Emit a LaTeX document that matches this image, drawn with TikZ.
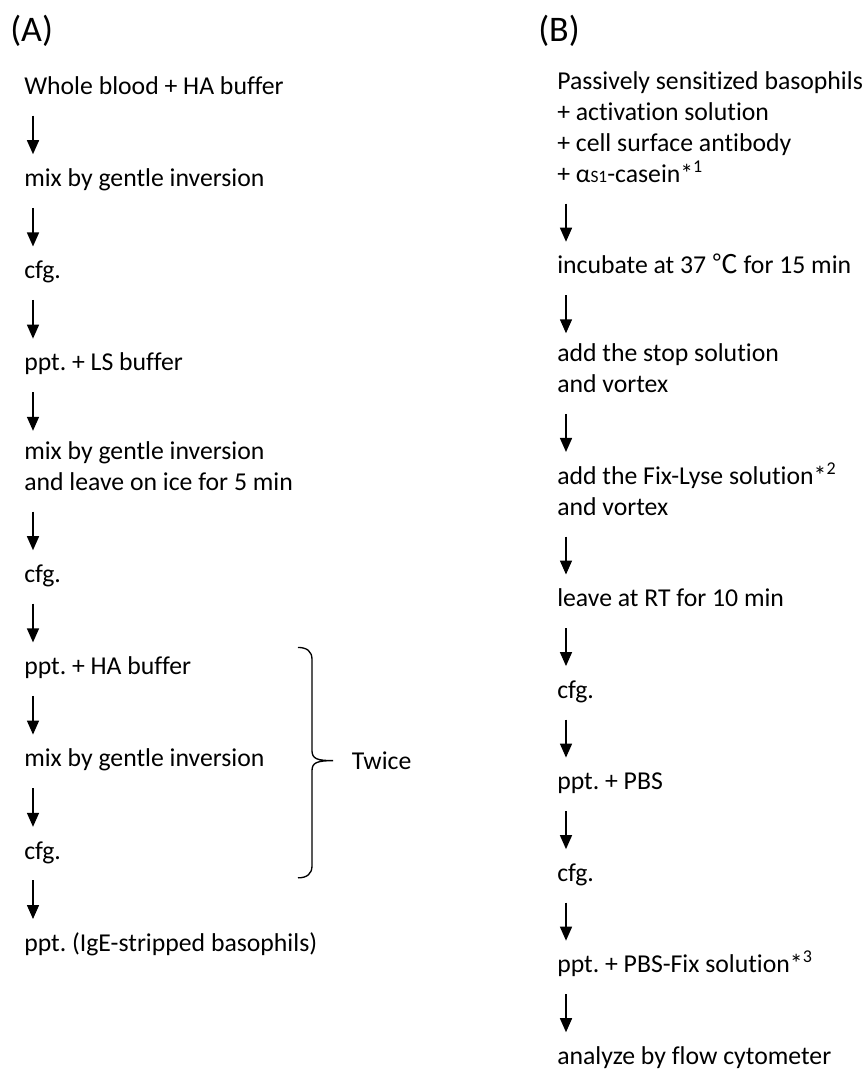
\documentclass[tikz,border=0pt]{standalone}
\usepackage{fontspec}
\setmainfont{Carlito}[Ligatures=NoCommon]
\newfontfamily\cjk{Noto Sans CJK JP}
\usetikzlibrary{arrows.meta, positioning, calc}
\frenchspacing

\newcommand{\stagefont}{\fontsize{19.3pt}{23.25pt}\selectfont}

\begin{document}
\begin{tikzpicture}[x=0.75pt, y=-0.75pt,
    stage/.style={anchor=north west, inner sep=0pt, align=left, font=\stagefont,
        execute at begin node=\strut, execute at end node=\strut},
    panel/.style={anchor=west, inner sep=0pt, font=\fontsize{27pt}{32pt}\selectfont},
    flowarr/.style={-{Triangle[length=10.5pt,width=9pt]}, line width=1.1pt,
        shorten <=8.8pt, shorten >=7.7pt},
    bracket/.style={line width=1pt},
]
\useasboundingbox (0,0) rectangle (865,1075);

% panel labels
\node[panel] (labA) at (10,31) {(A)};
\node[panel] (labB) at (538,31) {(B)};

% (A) IgE stripping
\node[stage] (a1) at (24,72.3) {Whole blood + HA buffer};
\node[below=45.5pt of a1.south west, stage] (a2) {mix by gentle inversion};
\node[below=45.5pt of a2.south west, stage] (a3) {cfg.};
\node[below=45.5pt of a3.south west, stage] (a4) {ppt. + LS buffer};
\node[below=45.5pt of a4.south west, stage] (a5) {mix by gentle inversion\\and leave on ice for 5 min};
\node[below=45.5pt of a5.south west, stage] (a6) {cfg.};
\node[below=45.5pt of a6.south west, stage] (a7) {ppt. + HA buffer};
\node[below=45.5pt of a7.south west, stage] (a8) {mix by gentle inversion};
\node[below=45.5pt of a8.south west, stage] (a9) {cfg.};
\node[below=45.5pt of a9.south west, stage] (a10) {ppt. (IgE-stripped basophils)};

\draw[flowarr] ([xshift=6.75pt]a1.south west) -- ([xshift=6.75pt]a2.north west);
\draw[flowarr] ([xshift=6.75pt]a2.south west) -- ([xshift=6.75pt]a3.north west);
\draw[flowarr] ([xshift=6.75pt]a3.south west) -- ([xshift=6.75pt]a4.north west);
\draw[flowarr] ([xshift=6.75pt]a4.south west) -- ([xshift=6.75pt]a5.north west);
\draw[flowarr] ([xshift=6.75pt]a5.south west) -- ([xshift=6.75pt]a6.north west);
\draw[flowarr] ([xshift=6.75pt]a6.south west) -- ([xshift=6.75pt]a7.north west);
\draw[flowarr] ([xshift=6.75pt]a7.south west) -- ([xshift=6.75pt]a8.north west);
\draw[flowarr] ([xshift=6.75pt]a8.south west) -- ([xshift=6.75pt]a9.north west);
\draw[flowarr] ([xshift=6.75pt]a9.south west) -- ([xshift=6.75pt]a10.north west);

% repeat bracket
\coordinate (brx) at (312,0);
\coordinate (brtop) at ($(brx |- a7.center)+(0,-21)$);
\coordinate (brbot) at ($(brx |- a9.center)+(0,25)$);
\coordinate (brtip) at ($(brx |- a8.center)+(21,0)$);
\draw[bracket] ($(brtop)+(-14,0)$) .. controls ($(brtop)+(-5,0)$) and ($(brtop)+(0,4)$) .. ($(brtop)+(0,12)$)
    -- ($(brtip)+(-21,-10)$) .. controls ($(brtip)+(-21,-2)$) and ($(brtip)+(-16,0)$) .. (brtip)
    .. controls ($(brtip)+(-16,0)$) and ($(brtip)+(-21,2)$) .. ($(brtip)+(-21,10)$)
    -- ($(brbot)+(0,-12)$) .. controls ($(brbot)+(0,-4)$) and ($(brbot)+(-5,0)$) .. ($(brbot)+(-14,0)$);
\node[right=14pt of brtip, inner sep=0pt, font=\stagefont] (twice) {Twice};

% (B) activation test
\node[stage] (b1) at (557,71.3) {Passively sensitized basophils\\+ activation solution\\+ cell surface antibody\\+ α{\fontsize{13pt}{13pt}\selectfont S1}-casein*\textsuperscript{1}};
\node[below=45pt of b1.south west, stage] (b2) {incubate at 37 {\cjk ℃} for 15 min};
\node[below=45pt of b2.south west, stage] (b3) {add the stop solution\\and vortex};
\node[below=45pt of b3.south west, stage] (b4) {add the Fix-Lyse solution*\textsuperscript{2}\\and vortex};
\node[below=45pt of b4.south west, stage] (b5) {leave at RT for 10 min};
\node[below=45pt of b5.south west, stage] (b6) {cfg.};
\node[below=45pt of b6.south west, stage] (b7) {ppt. + PBS};
\node[below=45pt of b7.south west, stage] (b8) {cfg.};
\node[below=45pt of b8.south west, stage] (b9) {ppt. + PBS-Fix solution*\textsuperscript{3}};
\node[below=45pt of b9.south west, stage] (b10) {analyze by flow cytometer};

\draw[flowarr] ([xshift=6.75pt]b1.south west) -- ([xshift=6.75pt]b2.north west);
\draw[flowarr] ([xshift=6.75pt]b2.south west) -- ([xshift=6.75pt]b3.north west);
\draw[flowarr] ([xshift=6.75pt]b3.south west) -- ([xshift=6.75pt]b4.north west);
\draw[flowarr] ([xshift=6.75pt]b4.south west) -- ([xshift=6.75pt]b5.north west);
\draw[flowarr] ([xshift=6.75pt]b5.south west) -- ([xshift=6.75pt]b6.north west);
\draw[flowarr] ([xshift=6.75pt]b6.south west) -- ([xshift=6.75pt]b7.north west);
\draw[flowarr] ([xshift=6.75pt]b7.south west) -- ([xshift=6.75pt]b8.north west);
\draw[flowarr] ([xshift=6.75pt]b8.south west) -- ([xshift=6.75pt]b9.north west);
\draw[flowarr] ([xshift=6.75pt]b9.south west) -- ([xshift=6.75pt]b10.north west);
\end{tikzpicture}
\end{document}
